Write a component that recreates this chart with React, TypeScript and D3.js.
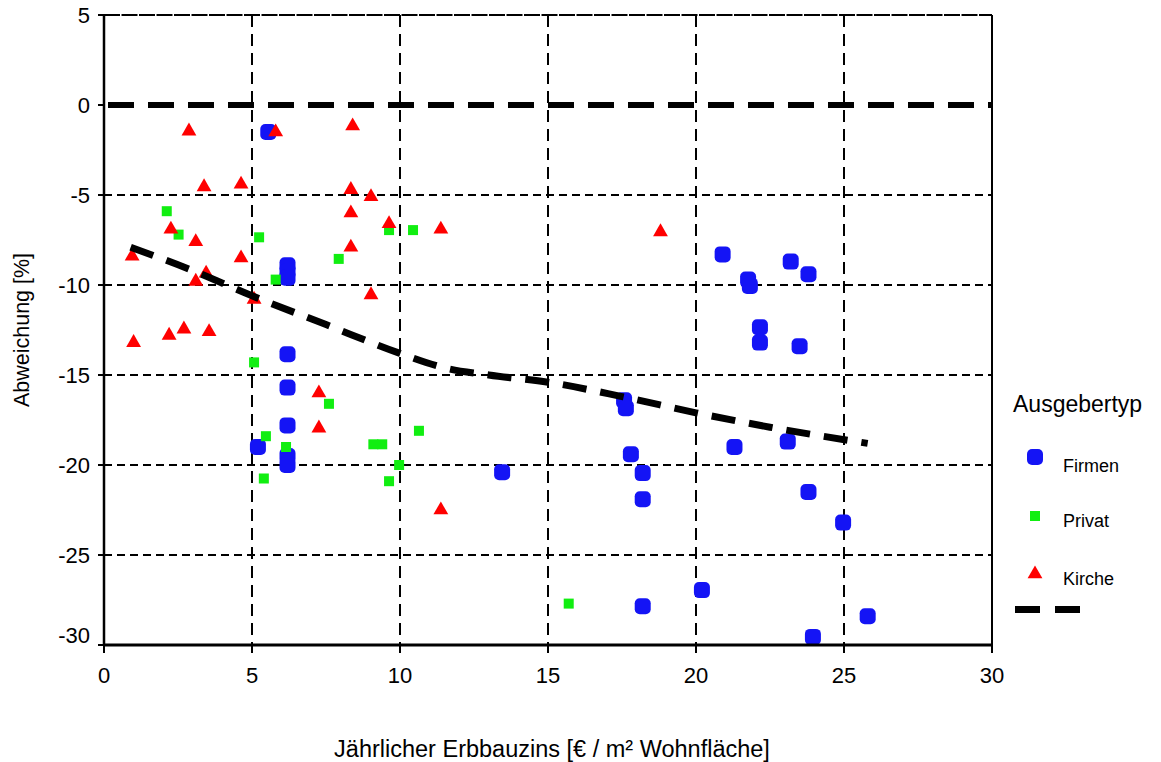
import React, { useEffect, useRef } from 'react';
import * as d3 from 'd3';

// Firmen (companies): [Erbbauzins, Abweichung]
const firmen: [number, number][] = [
  [5.55, -1.5], [6.2, -8.9], [6.2, -9.25], [6.2, -9.6], [6.2, -13.85], [6.2, -15.7],
  [6.2, -17.8], [5.2, -19.0], [6.2, -19.5], [6.2, -20.0], [13.45, -20.4],
  [20.9, -8.3], [23.2, -8.7], [23.8, -9.4], [21.76, -9.7], [21.82, -10.05],
  [22.16, -12.35], [22.16, -13.2], [23.5, -13.4], [17.57, -16.4], [17.63, -16.85],
  [17.8, -19.4], [18.2, -20.45], [18.2, -21.9], [21.3, -19.0], [23.1, -18.7],
  [23.8, -21.5], [24.97, -23.2], [20.2, -26.95], [18.2, -27.85], [25.8, -28.4],
  [23.95, -29.55],
];

// Privat
const privat: [number, number][] = [
  [2.12, -5.9], [2.52, -7.2], [5.24, -7.35], [7.93, -8.55], [9.63, -6.95],
  [10.44, -6.95], [5.8, -9.7], [5.07, -14.3], [7.6, -16.6], [5.47, -18.4],
  [6.15, -19.0], [9.1, -18.85], [9.4, -18.85], [10.64, -18.1], [9.97, -20.0],
  [9.63, -20.9], [5.4, -20.75], [15.7, -27.7],
];

// Kirche (church)
const kirche: [number, number][] = [
  [2.87, -1.45], [5.8, -1.5], [8.4, -1.17], [3.38, -4.55], [4.63, -4.4],
  [8.34, -4.7], [9.02, -5.1], [8.34, -6.0], [9.63, -6.6], [11.38, -6.9],
  [2.26, -6.9], [3.1, -7.6], [0.95, -8.4], [4.63, -8.5], [8.34, -7.9],
  [3.45, -9.35], [3.1, -9.8], [5.07, -10.8], [9.02, -10.55], [1.0, -13.2],
  [2.2, -12.8], [2.7, -12.45], [3.55, -12.6], [7.26, -16.0], [7.26, -17.95],
  [11.38, -22.5], [18.8, -7.05],
];

// smoothed trend line
const trend: [number, number][] = [
  [0.9, -7.9], [3, -9.2], [5, -10.6], [7.5, -12.2], [10, -13.8], [11.5, -14.6],
  [13, -15.0], [15, -15.4], [17.5, -16.2], [20, -17.1], [22.5, -17.9], [25.8, -18.8],
];

const xTicks = [0, 5, 10, 15, 20, 25, 30];
const yTicks = [5, 0, -5, -10, -15, -20, -25, -30];
const legendItems = ['Firmen', 'Privat', 'Kirche'];

const FONT = '"Liberation Sans", Arial, sans-serif';

const App = () => {
  const ref = useRef<SVGSVGElement>(null);

  useEffect(() => {
    if (!ref.current) return;
    const svg = d3.select(ref.current);
    svg.selectAll('*').remove();

    const left = 104, right = 992, top = 15, bottom = 645;
    const x = d3.scaleLinear().domain([0, 30]).range([left, right]);
    const y = d3.scaleLinear().domain([-30, 5]).range([bottom, top]);

    const plot = svg.append('g');

    // grid
    xTicks.filter(t => t > 0 && t < 30).forEach(t => {
      plot.append('line')
        .attr('x1', x(t)).attr('x2', x(t)).attr('y1', top).attr('y2', bottom)
        .attr('stroke', '#000').attr('stroke-width', 2).attr('stroke-dasharray', '12,7');
    });
    yTicks.filter(t => t < 0 && t > -30).forEach(t => {
      plot.append('line')
        .attr('x1', left).attr('x2', right).attr('y1', y(t)).attr('y2', y(t))
        .attr('stroke', '#000').attr('stroke-width', 2).attr('stroke-dasharray', '8,5');
    });

    // zero line
    plot.append('line')
      .attr('x1', left).attr('x2', right).attr('y1', y(0)).attr('y2', y(0))
      .attr('stroke', '#000').attr('stroke-width', 6).attr('stroke-dasharray', '26,14')
      .attr('stroke-dashoffset', -4);

    // markers
    const clip = svg.append('clipPath').attr('id', 'plotclip');
    clip.append('rect').attr('x', left).attr('y', top).attr('width', right - left).attr('height', bottom - top);
    const marks = svg.append('g').attr('clip-path', 'url(#plotclip)');

    marks.selectAll('.firm').data(firmen).enter().append('rect')
      .attr('x', d => x(d[0]) - 8).attr('y', d => y(d[1]) - 8)
      .attr('width', 16).attr('height', 16).attr('rx', 5)
      .attr('fill', '#1414f5');

    marks.selectAll('.priv').data(privat).enter().append('rect')
      .attr('x', d => x(d[0]) - 5).attr('y', d => y(d[1]) - 5)
      .attr('width', 10).attr('height', 10)
      .attr('fill', '#11ee11');

    const tri = d3.symbol().type(d3.symbolTriangle).size(95);
    marks.selectAll('.kir').data(kirche).enter().append('path')
      .attr('transform', d => `translate(${x(d[0])},${y(d[1])})`)
      .attr('d', tri())
      .attr('fill', '#ff0000');

    // trend
    const line = d3.line<[number, number]>()
      .x(d => x(d[0])).y(d => y(d[1]))
      .curve(d3.curveMonotoneX);
    marks.append('path')
      .datum(trend)
      .attr('d', line)
      .attr('fill', 'none')
      .attr('stroke', '#000')
      .attr('stroke-width', 7)
      .attr('stroke-dasharray', '24,14');

    // frame
    svg.append('line').attr('x1', left).attr('x2', right)
      .attr('y1', top).attr('y2', top).attr('stroke', '#000').attr('stroke-width', 2)
      .attr('stroke-dasharray', '16,1.5');
    svg.append('line').attr('x1', right).attr('x2', right)
      .attr('y1', top).attr('y2', bottom).attr('stroke', '#000').attr('stroke-width', 2);
    svg.append('line').attr('x1', left - 1).attr('x2', right + 1)
      .attr('y1', bottom).attr('y2', bottom).attr('stroke', '#000').attr('stroke-width', 3);
    svg.append('line').attr('x1', left).attr('x2', left)
      .attr('y1', top).attr('y2', bottom).attr('stroke', '#000').attr('stroke-width', 2.5);

    // ticks + labels
    xTicks.forEach(t => {
      svg.append('line').attr('x1', x(t)).attr('x2', x(t)).attr('y1', bottom).attr('y2', bottom + 8)
        .attr('stroke', '#000').attr('stroke-width', 2);
      svg.append('text').attr('x', x(t)).attr('y', 683)
        .attr('text-anchor', 'middle').attr('font-family', FONT).attr('font-size', 22)
        .text(t);
    });
    yTicks.forEach(t => {
      svg.append('line').attr('x1', left - 6).attr('x2', left).attr('y1', y(t)).attr('y2', y(t))
        .attr('stroke', '#000').attr('stroke-width', 2);
      const ly = t === -30 ? y(t) - 2 : y(t) + 8;
      svg.append('text').attr('x', 90).attr('y', ly)
        .attr('text-anchor', 'end').attr('font-family', FONT).attr('font-size', 22)
        .text(t);
    });

    // axis titles
    svg.append('text')
      .attr('transform', `translate(29,${(top + bottom) / 2}) rotate(-90)`)
      .attr('text-anchor', 'middle').attr('font-family', FONT).attr('font-size', 21.5)
      .text('Abweichung [%]');
    svg.append('text')
      .attr('x', 552).attr('y', 757)
      .attr('text-anchor', 'middle').attr('font-family', FONT).attr('font-size', 23.5)
      .text('Jährlicher Erbbauzins [€ / m² Wohnfläche]');

    // legend
    const lg = svg.append('g');
    lg.append('text').attr('x', 1013).attr('y', 412)
      .attr('font-family', FONT).attr('font-size', 23).text('Ausgebertyp');
    const rowY = [457, 516, 574];
    const textY = [472, 527, 585];
    legendItems.forEach((name, i) => {
      const cy = rowY[i];
      if (i === 0) {
        lg.append('rect').attr('x', 1027).attr('y', cy - 8).attr('width', 16).attr('height', 16)
          .attr('rx', 5).attr('fill', '#1414f5');
      } else if (i === 1) {
        lg.append('rect').attr('x', 1030).attr('y', cy - 5).attr('width', 10).attr('height', 10)
          .attr('fill', '#11ee11');
      } else {
        lg.append('path').attr('transform', `translate(1035,${cy})`).attr('d', tri())
          .attr('fill', '#ff0000');
      }
      lg.append('text').attr('x', 1063).attr('y', textY[i])
        .attr('font-family', FONT).attr('font-size', 18).text(name);
    });
    lg.append('line').attr('x1', 1015).attr('x2', 1080).attr('y1', 609.5).attr('y2', 609.5)
      .attr('stroke', '#000').attr('stroke-width', 7).attr('stroke-dasharray', '25,15');
  }, []);

  return (
    <svg ref={ref} width={1161} height={762}
      style={{ position: 'absolute', left: 0, top: 0, background: '#fff' }} />
  );
};

export default App;
